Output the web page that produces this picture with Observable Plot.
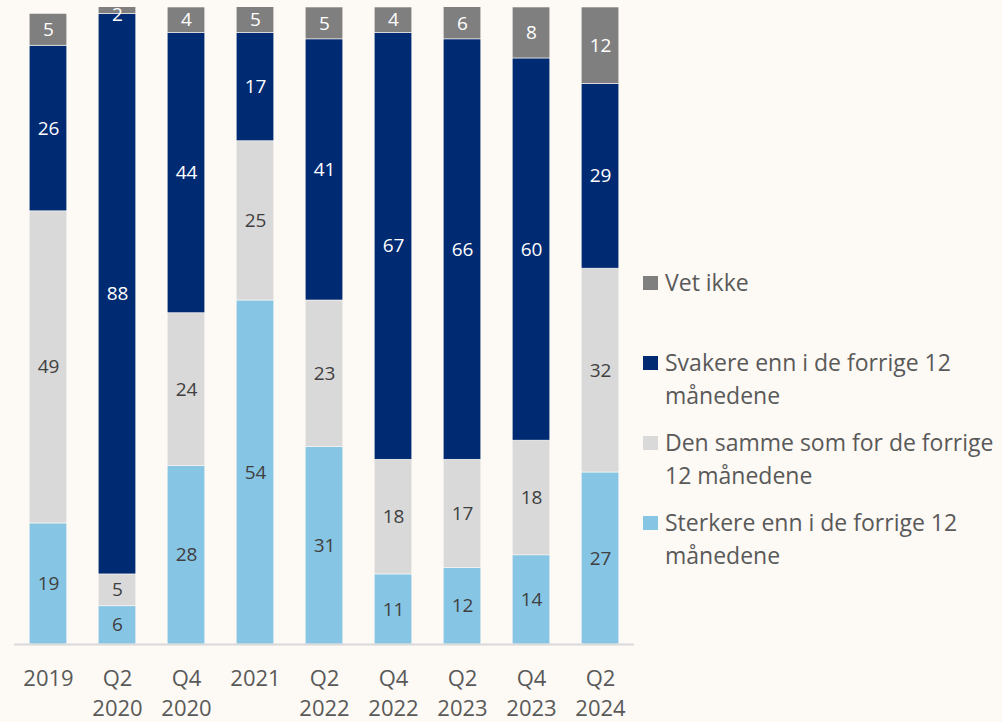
<!DOCTYPE html>
<html><head><meta charset="utf-8">
<script src="https://cdn.jsdelivr.net/npm/d3@7"></script>
<script src="https://cdn.jsdelivr.net/npm/@observablehq/plot@0.6"></script>
<style>
html,body{margin:0;padding:0;background:#fdf9f5;}
#wrap{position:relative;width:1002px;height:722px;font-family:"Open Sans",sans-serif;overflow:hidden;}
#legend{position:absolute;left:643px;top:266px;width:359px;}
.item{position:relative;height:80px;}
.sw{position:absolute;left:0;top:10px;width:15px;height:14px;}
.lab{position:absolute;left:22px;top:0;font-size:23px;line-height:33px;color:#595959;white-space:pre;}
</style></head>
<body><div id="wrap"><div id="legend"></div></div>
<script>
const periods = ["2019","Q2\n2020","Q4\n2020","2021","Q2\n2022","Q4\n2022","Q2\n2023","Q4\n2023","Q2\n2024"];
const series = ["Sterkere enn i de forrige 12 månedene","Den samme som for de forrige 12 månedene","Svakere enn i de forrige 12 månedene","Vet ikke"];
const legendLabels = ["Sterkere enn i de forrige 12\nmånedene","Den samme som for de forrige\n12 månedene","Svakere enn i de forrige 12\nmånedene","Vet ikke"];
const sterkere = [19,6,28,54,31,11,12,14,27];
const samme   = [49,5,24,25,23,18,17,18,32];
const svakere = [26,88,44,17,41,67,66,60,29];
const vetIkke = [5,2,4,5,5,4,6,8,12];
const colors = ["#87c5e5","#d9d9d9","#002a72","#7f7f7f"];
const labelColors = ["#404040","#404040","#ffffff","#ffffff"];

const valuesBySeries = [sterkere, samme, svakere, vetIkke];
const rows = [];
periods.forEach((p, i) => {
  let acc = 0;
  series.forEach((s, k) => {
    const v = valuesBySeries[k][i];
    const start = acc, end = acc + v;
    acc = end;
    rows.push({period: p, series: s, k, value: v, start, end, mid: Math.min((start + Math.min(end, 100)) / 2, 98.8)});
  });
});

const chart = Plot.plot({
  width: 1002,
  height: 722,
  marginLeft: 14,
  marginRight: 368,
  marginTop: 7,
  marginBottom: 78,
  style: {background: "transparent", fontFamily: "Open Sans, sans-serif"},
  x: {domain: periods, paddingInner: 0.455, paddingOuter: 0.22, round: false, label: null},
  y: {domain: [0, 100], axis: null},
  color: {domain: series, range: colors},
  marks: [
    Plot.barY(rows, {x: "period", y1: "start", y2: "end", fill: "series", clip: true, stroke: "#fdf9f5", strokeWidth: 0.6}),
    Plot.text(rows.filter(d => d.k < 2), {x: "period", y: "mid", text: d => String(d.value), fill: labelColors[0], fontSize: 19}),
    Plot.text(rows.filter(d => d.k >= 2), {x: "period", y: "mid", text: d => String(d.value), fill: labelColors[2], fontSize: 19}),
    Plot.ruleY([0], {stroke: "#d9d9d9", strokeWidth: 2}),
    Plot.axisX({tickSize: 0, tickPadding: 20, fontSize: 22, lineHeight: 1.36, color: "#595959", label: null})
  ]
});
const wrap = document.getElementById("wrap");
chart.style.position = "absolute";
chart.style.left = "0";
chart.style.top = "0";
wrap.insertBefore(chart, wrap.firstChild);

const legend = document.getElementById("legend");
[3, 2, 1, 0].forEach(k => {
  const it = document.createElement("div");
  it.className = "item";
  const sw = document.createElement("div");
  sw.className = "sw";
  sw.style.background = colors[k];
  const lab = document.createElement("div");
  lab.className = "lab";
  lab.textContent = legendLabels[k];
  it.appendChild(sw); it.appendChild(lab);
  legend.appendChild(it);
});
</script>
</body></html>
